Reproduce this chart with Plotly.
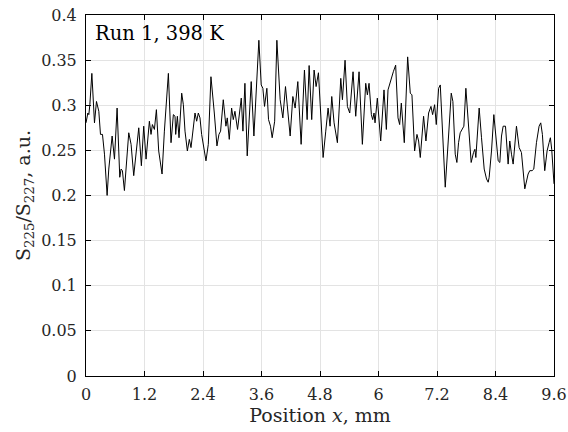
import plotly.graph_objects as go

position_mm = [
    0.000, 0.038, 0.058, 0.079, 0.120, 0.174, 0.215, 0.263, 0.297, 0.338, 0.379, 0.433, 0.467, 0.536, 0.584,
    0.638, 0.693, 0.720, 0.747, 0.788, 0.877, 0.925, 0.979, 1.082, 1.136, 1.184, 1.232, 1.300, 1.334, 1.362,
    1.403, 1.444, 1.491, 1.560,
    1.608, 1.649, 1.690, 1.744, 1.792, 1.826, 1.840, 1.874, 1.908, 1.963, 1.997, 2.031, 2.079, 2.120, 2.154,
    2.236, 2.270, 2.304, 2.338, 2.372, 2.461, 2.509, 2.563, 2.632, 2.686, 2.727, 2.761, 2.816, 2.870, 2.898,
    2.939, 2.987, 3.021, 3.055, 3.109,
    3.185, 3.219, 3.260, 3.307, 3.389, 3.444, 3.546, 3.594, 3.628, 3.662, 3.710, 3.744, 3.785, 3.819, 3.870,
    3.915, 3.983, 4.038, 4.092, 4.140, 4.188, 4.243, 4.290, 4.345, 4.413, 4.481, 4.536, 4.577, 4.630, 4.679,
    4.720,
    4.768, 4.802, 4.864, 4.918, 4.966, 5.007, 5.041, 5.089, 5.157, 5.226, 5.260, 5.314, 5.362, 5.410, 5.478,
    5.533, 5.601, 5.669, 5.738, 5.772, 5.806, 5.854, 5.881, 5.908, 5.929, 5.976, 6.045, 6.113, 6.161, 6.195,
    6.250, 6.304, 6.352,
    6.400, 6.434, 6.468, 6.529, 6.598, 6.652, 6.686, 6.741, 6.789, 6.823, 6.857, 6.925, 6.973, 7.028, 7.076,
    7.110, 7.151, 7.185, 7.233, 7.267, 7.315, 7.369, 7.437, 7.492, 7.526, 7.574, 7.608, 7.642, 7.676, 7.710,
    7.751, 7.792, 7.847, 7.901, 7.949,
    7.977, 7.997, 8.065, 8.113, 8.168, 8.216, 8.250, 8.270, 8.318, 8.366, 8.407, 8.455, 8.489, 8.523, 8.557,
    8.605, 8.659, 8.693, 8.728, 8.762, 8.830, 8.885, 8.932, 9.001, 9.069, 9.103, 9.151, 9.185, 9.240, 9.294,
    9.328, 9.362, 9.410, 9.458, 9.499, 9.526, 9.553, 9.600,
]

ratio_au = [
    0.2805, 0.2914, 0.2896, 0.3006, 0.3353, 0.2805, 0.3042, 0.2933, 0.2677, 0.2677, 0.2458, 0.2001, 0.2293, 0.2659, 0.2403,
    0.2969, 0.2202, 0.2293, 0.2275, 0.2055, 0.2695, 0.2567, 0.2220, 0.2750, 0.2330, 0.2768, 0.2403, 0.2823, 0.2677, 0.2786,
    0.2732, 0.2951, 0.2494, 0.2238,
    0.2713, 0.3006, 0.3353, 0.2585, 0.2896, 0.2878, 0.2677, 0.2878, 0.2640, 0.3134, 0.3006, 0.2713, 0.2494, 0.2622, 0.2531,
    0.2914, 0.2823, 0.2914, 0.2860, 0.2677, 0.2384, 0.2567, 0.3316, 0.2914, 0.2549, 0.2677, 0.2713, 0.3061, 0.2768, 0.2860,
    0.2622, 0.2969, 0.2841, 0.2933, 0.2732,
    0.3079, 0.2713, 0.3243, 0.2439, 0.3262, 0.2659, 0.3720, 0.3225, 0.3188, 0.2987, 0.3188, 0.2841, 0.2768, 0.2640, 0.2823,
    0.3720, 0.3061, 0.2860, 0.3207, 0.2951, 0.2659, 0.3097, 0.2969, 0.3262, 0.2567, 0.3390, 0.2841, 0.3440, 0.2841, 0.3390,
    0.3207,
    0.3360, 0.2969, 0.2421, 0.2713, 0.2969, 0.2768, 0.3097, 0.2805, 0.2585, 0.3298, 0.3061, 0.3499, 0.2987, 0.2914, 0.3371,
    0.2878, 0.3371, 0.2567, 0.3243, 0.3115, 0.3243, 0.2896, 0.2841, 0.2914, 0.2805, 0.3079, 0.2604, 0.3170, 0.2732, 0.3170,
    0.3280, 0.3371, 0.3444,
    0.2860, 0.2786, 0.3024, 0.2585, 0.3536, 0.3134, 0.3115, 0.2494, 0.2677, 0.2604, 0.2421, 0.2878, 0.2604, 0.2914, 0.2987,
    0.2896, 0.3006, 0.2786, 0.3188, 0.3225, 0.2604, 0.2092, 0.2659, 0.3134, 0.3042, 0.2458, 0.2366, 0.2585, 0.2695, 0.2732,
    0.2768, 0.3188, 0.2823, 0.2366, 0.2476,
    0.2512, 0.2421, 0.2969, 0.2640, 0.2293, 0.2183, 0.2147, 0.2202, 0.2494, 0.2896, 0.2622, 0.2384, 0.2366, 0.2659, 0.2768,
    0.2768, 0.2348, 0.2604, 0.2458, 0.2348, 0.2768, 0.2531, 0.2476, 0.2074, 0.2238, 0.2275, 0.2275, 0.2293, 0.2585, 0.2768,
    0.2805, 0.2677, 0.2275, 0.2494, 0.2585, 0.2640, 0.2512, 0.2129,
]

x_tick_vals = [0, 1.2, 2.4, 3.6, 4.8, 6, 7.2, 8.4, 9.6]
x_tick_text = ["0", "1.2", "2.4", "3.6", "4.8", "6", "7.2", "8.4", "9.6"]
y_tick_vals = [0, 0.05, 0.1, 0.15, 0.2, 0.25, 0.3, 0.35, 0.4]
y_tick_text = ["0", "0.05", "0.1", "0.15", "0.2", "0.25", "0.3", "0.35", "0.4"]

FONT = "DejaVu Serif"

fig = go.Figure()
fig.add_trace(go.Scatter(
    x=position_mm, y=ratio_au, mode="lines",
    line=dict(color="black", width=1), showlegend=False,
))

axis_common = dict(
    showline=True, linecolor="black", linewidth=1, mirror="ticks",
    ticks="inside", ticklen=5, tickcolor="black",
    showgrid=True, gridcolor="#e3e3e3", gridwidth=1,
    zeroline=False, tickfont=dict(family=FONT, size=16, color="#262626"),
    automargin=False,
)

fig.update_xaxes(
    range=[0, 9.6], tickvals=x_tick_vals, ticktext=x_tick_text, ticklabelstandoff=4,
    title=dict(text="Position <i>x</i>, mm", font=dict(family=FONT, size=19, color="#262626"), standoff=1),
    **axis_common,
)
fig.update_yaxes(
    range=[0, 0.4], tickvals=y_tick_vals, ticktext=y_tick_text, ticklabelstandoff=5,
    title=dict(text="S<sub>225</sub>/S<sub>227</sub>, a.u.", font=dict(family=FONT, size=19, color="#262626"), standoff=5),
    **axis_common,
)

fig.add_annotation(
    x=0.016, y=0.985, xref="paper", yref="paper", xanchor="left", yanchor="top",
    text="Run 1, 398 K", showarrow=False,
    font=dict(family=FONT, size=19.5, color="black"),
)

fig.update_layout(
    width=568, height=432,
    margin=dict(l=86, r=14, t=15, b=56),
    paper_bgcolor="white", plot_bgcolor="white",
    font=dict(family=FONT, color="black"),
)

fig.write_html("out.html", config={"displayModeBar": False},
               post_script="document.body.style.margin='0px';")
